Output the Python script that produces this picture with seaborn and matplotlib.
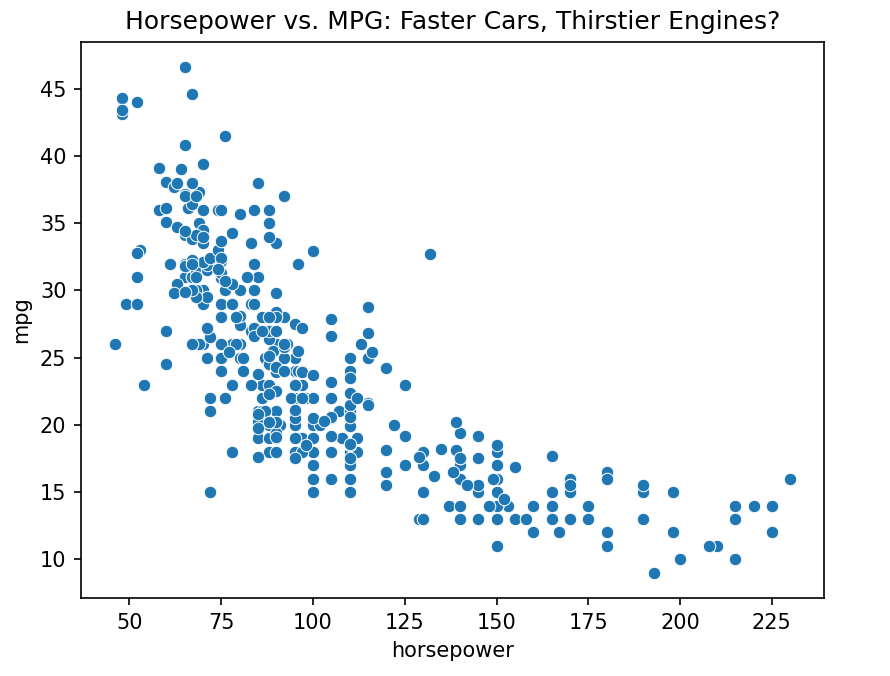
import matplotlib
matplotlib.use("Agg")
import matplotlib.pyplot as plt
import seaborn as sns
import pandas as pd

# horsepower / mpg pairs (cars with missing horsepower left out)
horsepower = [
    130, 165, 150, 150, 140, 198, 220, 215, 225, 190, 170, 160, 150, 225, 95, 95, 97, 85, 88, 46,
    87, 90, 95, 113, 90, 215, 200, 210, 193,
    88, 90, 95, 100, 105, 100, 88, 100, 165, 175, 153, 150, 180, 170, 175, 110, 72, 100, 88, 86,
    90, 70, 76, 65, 69, 60, 70,
    95, 80, 54, 90, 86, 165, 175, 150, 153, 150, 208, 155, 160, 190, 97, 150, 130, 140, 150, 112,
    76, 87, 69, 86, 92, 97, 80, 88,
    175, 150, 145, 137, 150, 198, 150, 158, 150, 215, 225, 175, 105, 100, 100, 88, 95, 46, 150, 167,
    170, 180, 100, 88, 72, 94, 90, 85, 107, 90, 145, 230, 49, 75, 91, 112, 150, 110, 122, 180,
    95, 100, 100, 67, 80, 65, 75, 100, 110, 105, 140, 150, 150, 140, 150, 83, 67, 78, 52, 61,
    75, 75, 75, 97, 93, 67,
    95, 105, 72, 72, 170, 145, 150, 148, 110, 105, 110, 95, 110, 110, 129, 75, 83, 100, 78, 96,
    71, 97, 97, 70, 90, 95, 88, 98, 115, 53,
    86, 81, 92, 79, 83, 140, 150, 120, 152, 100, 105, 81, 90, 52, 60, 70, 53, 100, 78, 110,
    95, 71, 70, 75, 72, 102, 150, 88, 108, 120, 180, 145, 130, 150,
    68, 80, 58, 96, 70, 145, 110, 145, 130, 110, 105, 100, 98, 180, 170, 190, 149, 78, 88, 75,
    89, 63, 83, 67, 78, 97, 110, 110,
    48, 66, 52, 70, 60, 110, 140, 139, 105, 95, 85, 88, 100, 90, 105, 85, 110, 120, 145, 165,
    139, 140, 68, 95, 97, 75, 95, 105, 85, 97, 103, 125, 115, 133, 71, 68,
    115, 85, 88, 90, 110, 130, 129, 138, 135, 155, 142, 125, 150, 71, 65, 80, 80, 77, 125, 71,
    90, 70, 70, 65, 69, 90, 115, 115, 90,
    76, 60, 70, 65, 90, 88, 90, 90, 78, 90, 75, 92, 75, 65, 105, 65, 48, 48, 67, 67,
    67, 67, 62, 132, 100, 88, 72,
    84, 84, 92, 110, 84, 58, 64, 60, 67, 65, 62, 68, 63, 65, 65, 74, 75, 75, 100, 74,
    80, 76, 116, 120, 110, 105, 88, 85,
    88, 88, 88, 85, 84, 90, 92, 74, 68, 68, 63, 70, 88, 75, 70, 67, 67, 67, 110, 85,
    92, 112, 96, 84, 90, 86, 52, 84, 79, 82,
]
mpg = [
    18, 15, 18, 16, 17, 15, 14, 14, 14, 15, 15, 14, 15, 14, 24, 22, 18, 21, 27, 26,
    25, 24, 25, 26, 21, 10, 10, 11, 9,
    27, 28, 25, 19, 16, 17, 19, 18, 14, 14, 14, 14, 12, 13, 13, 18, 22, 19, 18, 23,
    28, 30, 30, 31, 35, 27, 26,
    24, 25, 23, 20, 21, 13, 14, 15, 14, 17, 11, 13, 12, 13, 19, 15, 13, 13, 14, 18,
    22, 21, 26, 22, 28, 23, 28, 27,
    13, 14, 13, 14, 15, 12, 13, 13, 14, 13, 12, 13, 18, 16, 18, 18, 23, 26, 11, 12,
    13, 12, 18, 20, 21, 22, 18, 19, 21, 26, 15, 16, 29, 24, 20, 19, 15, 24, 20, 11,
    20, 19, 15, 31, 26, 32, 25, 16, 16, 18, 16, 13, 14, 14, 14, 29, 26, 26, 31, 32,
    28, 24, 26, 24, 26, 31,
    19, 18, 15, 15, 16, 15, 16, 14, 17, 16, 15, 18, 21, 20, 13, 29, 23, 20, 23, 24,
    25, 24, 18, 29, 19, 23, 23, 22, 25, 33,
    28, 25, 25, 26, 27, 17.5, 16, 15.5, 14.5, 22, 22, 24, 22.5, 29, 24.5, 29, 33, 20, 18, 18.5,
    17.5, 29.5, 32, 28, 26.5, 20, 13, 19, 19, 16.5, 16.5, 13, 13, 13,
    31.5, 30, 36, 25.5, 33.5, 17.5, 17, 15.5, 15, 17.5, 20.5, 19, 18.5, 16, 15.5, 15.5, 16, 29, 24.5, 26,
    25.5, 30.5, 33.5, 30, 30.5, 22, 21.5, 21.5,
    43.1, 36.1, 32.8, 39.4, 36.1, 19.9, 19.4, 20.2, 19.2, 20.5, 20.2, 25.1, 20.5, 19.4, 20.6, 20.8, 18.6, 18.1, 19.2, 17.7,
    18.1, 17.5, 30, 27.5, 27.2, 30.9, 21.1, 23.2, 23.8, 23.9, 20.3, 17, 21.6, 16.2, 31.5, 29.5,
    21.5, 19.8, 22.3, 20.2, 20.6, 17, 17.6, 16.5, 18.2, 16.9, 15.5, 19.2, 18.5, 31.9, 34.1, 35.7, 27.4, 25.4, 23, 27.2,
    23.9, 34.2, 34.5, 31.8, 37.3, 28.4, 28.8, 26.8, 33.5,
    41.5, 38.1, 32.1, 37.2, 28, 26.4, 24.3, 19.1, 34.3, 29.8, 31.3, 37, 32.2, 46.6, 27.9, 40.8, 44.3, 43.4, 36.4, 30,
    44.6, 33.8, 29.8, 32.7, 23.7, 35, 32.4,
    27.2, 26.6, 25.8, 23.5, 30, 39.1, 39, 35.1, 32.3, 37, 37.7, 34.1, 34.7, 34.4, 29.9, 33, 33.7, 32.4, 32.9, 31.6,
    28.1, 30.7, 25.4, 24.2, 22.4, 26.6, 20.2, 17.6,
    28, 27, 34, 31, 29, 27, 24, 36, 37, 31, 38, 36, 36, 36, 34, 38, 32, 38, 25, 38,
    26, 22, 32, 36, 27, 27, 44, 32, 28, 31,
]

df = pd.DataFrame({"horsepower": horsepower, "mpg": mpg})

fig = plt.figure(figsize=(890 / 150, 676 / 150), dpi=150)
ax = fig.add_axes([81 / 890, 1 - 598 / 676, (824 - 81) / 890, (598 - 42) / 676])
sns.scatterplot(data=df, x="horsepower", y="mpg", ax=ax)
ax.set_title("Horsepower vs. MPG: Faster Cars, Thirstier Engines?")
fig.savefig("out.png", dpi=150)
